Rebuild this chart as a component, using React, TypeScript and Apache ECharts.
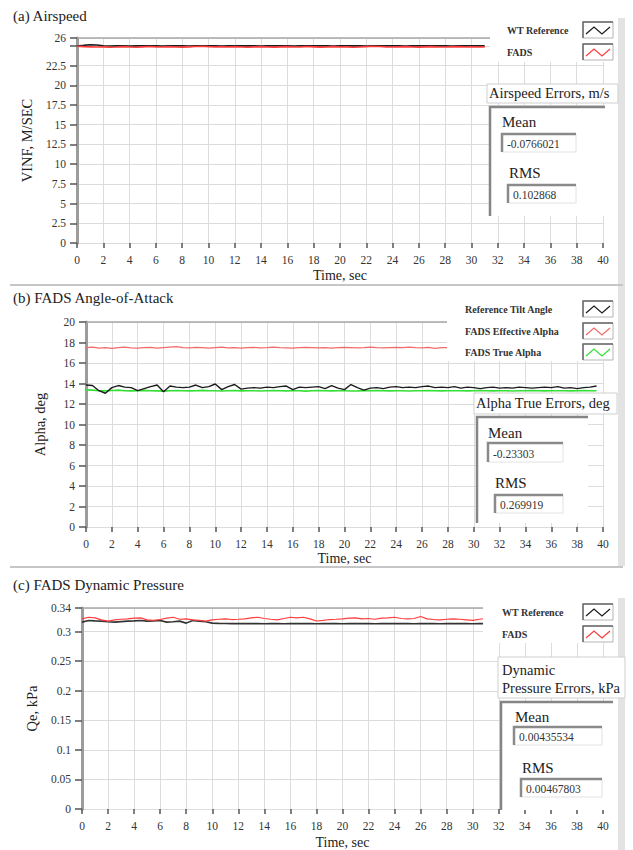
import React, { useEffect, useRef } from "react";
import * as echarts from "echarts";

const SERIF = '"Liberation Serif", "Times New Roman", Times, serif';

// ---------- shared time axis ----------
const timeName = "Time, sec";
const timeMin = 0;
const timeMax = 40;
const timeInterval = 2;

// ---------- (a) Airspeed ----------
const airspeedTitle = "(a) Airspeed";
const airspeedYName = "VINF, M/SEC";
const airspeedYMax = 26;
const airspeedYInterval = 2.5;
const airspeedStep = 0.5;
const airspeedWT = [
  24.98, 25.06, 25.15, 25.12, 25.02, 24.99, 25.0, 25.01, 24.99, 25.0,
  25.0, 25.02, 25.0, 24.98, 25.0, 25.01, 25.0, 24.98, 25.0, 25.02,
  25.0, 25.0, 24.98, 25.0, 25.01, 25.0, 25.02, 25.0, 24.98, 25.0,
  25.0, 25.01, 25.0, 24.98, 25.0, 25.0, 25.02, 25.0, 25.01, 24.98,
  25.0, 25.0, 25.01, 25.0, 24.98, 25.0, 25.02, 25.0, 25.0, 25.01,
  24.98, 25.0, 25.0, 25.01, 25.02, 25.0, 25.0, 24.98, 25.0, 25.01,
  25.0, 25.0, 25.0,
];
const airspeedFADS = [
  24.95, 24.9, 24.88, 24.85, 24.88, 24.82, 24.85, 24.9, 24.85, 24.82,
  24.88, 24.92, 24.88, 24.85, 24.9, 24.86, 24.84, 24.88, 24.92, 24.95,
  24.9, 24.86, 24.88, 24.85, 24.9, 24.86, 24.82, 24.88, 24.9, 24.86,
  24.84, 24.88, 24.9, 24.85, 24.88, 24.92, 24.88, 24.84, 24.86, 24.9,
  24.85, 24.88, 24.82, 24.86, 24.9, 24.95, 24.92, 24.88, 24.85, 24.88,
  24.9, 24.86, 24.84, 24.88, 24.9, 24.86, 24.85, 24.88, 24.9, 24.86,
  24.88, 24.85, 24.88,
];
const airspeedLegend = ["WT Reference", "FADS"];
const airspeedErrTitle = ["Airspeed Errors, m/s"];
const airspeedMean = "-0.0766021";
const airspeedRMS = "0.102868";

// ---------- (b) Angle of attack ----------
const alphaTitle = "(b) FADS Angle-of-Attack";
const alphaYName = "Alpha, deg";
const alphaYMax = 20;
const alphaYInterval = 2;
const alphaStep = 0.5;
const alphaReference = [
  13.85, 13.8, 13.3, 13.05, 13.6, 13.8, 13.65, 13.6, 13.3, 13.5,
  13.7, 13.85, 13.2, 13.75, 13.65, 13.6, 13.65, 13.85, 13.6, 13.7,
  13.95, 13.4, 13.7, 13.9, 13.45, 13.55, 13.6, 13.55, 13.65, 13.6,
  13.7, 13.75, 13.4, 13.65, 13.6, 13.65, 13.7, 13.5, 13.8, 13.55,
  13.4, 13.9, 13.6, 13.35, 13.55, 13.6, 13.5, 13.65, 13.7, 13.6,
  13.65, 13.6, 13.7, 13.75, 13.6, 13.65, 13.6, 13.7, 13.55, 13.65,
  13.6, 13.5, 13.6, 13.65, 13.55, 13.6, 13.55, 13.65, 13.6, 13.55,
  13.6, 13.65, 13.6, 13.7, 13.55, 13.6, 13.5, 13.6, 13.65, 13.75,
];
const alphaEffective = [
  17.5, 17.55, 17.45, 17.5, 17.42, 17.5, 17.55, 17.48, 17.45, 17.5,
  17.52, 17.45, 17.5, 17.55, 17.6, 17.5, 17.48, 17.52, 17.5, 17.45,
  17.5, 17.55, 17.48, 17.5, 17.45, 17.5, 17.52, 17.48, 17.5, 17.55,
  17.5, 17.48, 17.45, 17.5, 17.52, 17.5, 17.48, 17.5, 17.45, 17.5,
  17.52, 17.5, 17.48, 17.5, 17.55, 17.5, 17.48, 17.5, 17.52, 17.5,
  17.55, 17.5, 17.48, 17.52, 17.42, 17.5, 17.5,
];
const alphaTrue = [
  13.38, 13.35, 13.3, 13.28, 13.32, 13.35, 13.3, 13.28, 13.3, 13.33,
  13.3, 13.28, 13.26, 13.3, 13.32, 13.3, 13.28, 13.3, 13.33, 13.3,
  13.3, 13.27, 13.3, 13.32, 13.28, 13.3, 13.3, 13.27, 13.3, 13.32,
  13.3, 13.28, 13.3, 13.3, 13.26, 13.3, 13.32, 13.3, 13.28, 13.3,
  13.3, 13.27, 13.28, 13.3, 13.3, 13.32, 13.3, 13.28, 13.3, 13.3,
  13.27, 13.3, 13.3, 13.32, 13.3, 13.28, 13.3, 13.3, 13.3, 13.28,
  13.3, 13.32, 13.3, 13.28, 13.3, 13.3, 13.27, 13.3, 13.3, 13.32,
  13.3, 13.28, 13.3, 13.3, 13.3, 13.28, 13.3, 13.32, 13.3, 13.3,
];
const alphaLegend = ["Reference Tilt Angle", "FADS Effective Alpha", "FADS True Alpha"];
const alphaErrTitle = ["Alpha True Errors, deg"];
const alphaMean = "-0.23303";
const alphaRMS = "0.269919";

// ---------- (c) Dynamic pressure ----------
const qTitle = "(c) FADS Dynamic Pressure";
const qYName = "Qe, kPa";
const qYMax = 0.34;
const qYInterval = 0.05;
const qStep = 0.5;
const qWT = [
  0.3161, 0.3189, 0.3183, 0.3178, 0.3167, 0.3161, 0.317, 0.3178, 0.3183, 0.3189,
  0.3178, 0.3183, 0.3189, 0.3161, 0.3167, 0.3178, 0.3144, 0.3189, 0.3178, 0.3167,
  0.3144, 0.314, 0.3138, 0.3136, 0.3135, 0.3135, 0.3136, 0.3135, 0.3134, 0.3135,
  0.3135, 0.3134, 0.3135, 0.3135, 0.3136, 0.3135, 0.3134, 0.3135, 0.3135, 0.3135,
  0.3134, 0.3135, 0.3136, 0.3135, 0.3135, 0.3134, 0.3135, 0.3135, 0.3135, 0.3136,
  0.3135, 0.3134, 0.3135, 0.3135, 0.3135, 0.3134, 0.3135, 0.3136, 0.3135, 0.3135,
  0.3134, 0.3135, 0.3135,
];
const qFADS = [
  0.3217, 0.3244, 0.3233, 0.32, 0.3178, 0.32, 0.321, 0.3217, 0.323, 0.3233,
  0.32, 0.319, 0.3205, 0.323, 0.3244, 0.321, 0.3217, 0.32, 0.319, 0.3178,
  0.32, 0.321, 0.3217, 0.3205, 0.321, 0.3217, 0.3233, 0.3244, 0.3222, 0.321,
  0.32, 0.3222, 0.3244, 0.3233, 0.3244, 0.3217, 0.318, 0.319, 0.3205, 0.321,
  0.3217, 0.323, 0.3233, 0.3217, 0.3222, 0.321, 0.323, 0.3233, 0.3244, 0.3222,
  0.3217, 0.3222, 0.3256, 0.3217, 0.3205, 0.32, 0.321, 0.3217, 0.321, 0.32,
  0.319, 0.321, 0.3222,
];
const qLegend = ["WT Reference", "FADS"];
const qErrTitle = ["Dynamic", "Pressure Errors, kPa"];
const qMean = "0.00435534";
const qRMS = "0.00467803";

// ---------- colours ----------
const BLACK = "#1c1c1c";
const RED = "#ff3c3c";
const PINK = "#f36a6a";
const GREEN = "#35e035";

const pairs = (step: number, vals: number[]) => vals.map((v, i) => [i * step, v]);

// ---------- overlay (LabVIEW front-panel) layout ----------
type Layout = {
  title: string;
  titleY: number;
  topLine: { x1: number; x2: number; y: number };
  legend: { x: number; y: number; w: number; h: number; textX: number; rows: number[]; names: string[]; colors: string[] };
  err: { x: number; y: number; w: number; h: number; textX: number; textY: number[]; lines: string[] };
  cluster: {
    x: number; y: number; x2: number; y2: number;
    meanX: number; meanY: number; meanField: number[]; meanText: string;
    rmsX: number; rmsY: number; rmsField: number[]; rmsText: string;
  };
};

const layouts: Layout[] = [
  {
    title: airspeedTitle, titleY: 16,
    topLine: { x1: 78, x2: 490, y: 38 },
    legend: { x: 490, y: 18, w: 128, h: 44, textX: 507, rows: [30, 52], names: airspeedLegend, colors: [BLACK, RED] },
    err: { x: 487, y: 84, w: 131, h: 19, textX: 489, textY: [93], lines: airspeedErrTitle },
    cluster: {
      x: 490, y: 107, x2: 605, y2: 216,
      meanX: 502, meanY: 122, meanField: [502, 134, 576, 152], meanText: airspeedMean,
      rmsX: 509, rmsY: 173, rmsField: [508, 185, 576, 203], rmsText: airspeedRMS,
    },
  },
  {
    title: alphaTitle, titleY: 298,
    topLine: { x1: 87, x2: 447, y: 322 },
    legend: { x: 447, y: 294, w: 171, h: 67, textX: 465, rows: [309, 331, 352], names: alphaLegend, colors: [BLACK, PINK, GREEN] },
    err: { x: 474, y: 393, w: 143, h: 21, textX: 476, textY: [403], lines: alphaErrTitle },
    cluster: {
      x: 477, y: 417, x2: 588, y2: 523,
      meanX: 488, meanY: 433, meanField: [488, 443, 563, 462], meanText: alphaMean,
      rmsX: 495, rmsY: 483, rmsField: [495, 495, 563, 513], rmsText: alphaRMS,
    },
  },
  {
    title: qTitle, titleY: 585,
    topLine: { x1: 83, x2: 483, y: 608 },
    legend: { x: 483, y: 598, w: 135, h: 45, textX: 502, rows: [612, 634], names: qLegend, colors: [BLACK, RED] },
    err: { x: 498, y: 657, w: 127, h: 41, textX: 502, textY: [670, 688], lines: qErrTitle },
    cluster: {
      x: 501, y: 702, x2: 613, y2: 810,
      meanX: 515, meanY: 717, meanField: [514, 727, 602, 745], meanText: qMean,
      rmsX: 522, rmsY: 768, rmsField: [521, 779, 602, 797], rmsText: qRMS,
    },
  },
];

function txt(x: number, y: number, text: string, size: number, color = "#222", weight = "normal") {
  return {
    type: "text", z: 120, x, y, silent: true,
    style: { text, fill: color, fontSize: size, fontFamily: SERIF, fontWeight: weight, align: "left", verticalAlign: "middle" },
  };
}
function rect(x: number, y: number, w: number, h: number, fill: string, stroke?: string, lw = 1, z = 100) {
  return {
    type: "rect", z, silent: true,
    shape: { x, y, width: w, height: h },
    style: { fill, stroke: stroke || null, lineWidth: lw },
  };
}
function pl(points: number[][], stroke: string, lw: number, z = 110) {
  return { type: "polyline", z, silent: true, shape: { points }, style: { stroke, lineWidth: lw, fill: null } };
}

function buildGraphic() {
  const els: any[] = [];
  // right-hand gray strips
  els.push(rect(618, 18, 7, 548, "#e3e3e3", undefined, 0, 95));
  els.push(rect(618, 598, 7, 252, "#e3e3e3", undefined, 0, 95));
  // separators
  els.push(pl([[10, 285], [623, 285]], "#c6c6c6", 2, 96));
  els.push(pl([[10, 567], [623, 567]], "#c6c6c6", 2, 96));

  for (const L of layouts) {
    els.push(txt(13, L.titleY, L.title, 15, "#222"));
    els.push(pl([[L.topLine.x1, L.topLine.y], [L.topLine.x2, L.topLine.y]], "#a8a8a8", 1.5, 90));
    // legend
    const lg = L.legend;
    els.push(rect(lg.x, lg.y, lg.w, lg.h, "#ffffff"));
    lg.rows.forEach((ry, i) => {
      els.push(txt(lg.textX, ry, lg.names[i], 10, "#333", "bold"));
      const sx = 583, sy = ry - 8;
      els.push(rect(sx, sy, 30, 16, "#ffffff", "#b5b5b5", 1, 105));
      els.push(pl([[sx, sy + 16], [sx, sy], [sx + 30, sy]], "#6a6a6a", 1.5));
      els.push(pl([[sx + 3, sy + 12], [sx + 11, sy + 5], [sx + 19, sy + 12], [sx + 27, sy + 5]], lg.colors[i], 1.2, 115));
    });
    // error title
    const e = L.err;
    els.push(rect(e.x, e.y, e.w, e.h, "#ffffff", "#cfcfcf", 1, 101));
    e.lines.forEach((line, i) => els.push(txt(e.textX, e.textY[i], line, 14.5, "#222")));
    // cluster
    const c = L.cluster;
    els.push(rect(c.x, c.y, c.x2 - c.x, c.y2 - c.y, "#ffffff"));
    els.push(pl([[c.x, c.y2], [c.x, c.y], [c.x2, c.y]], "#858585", 2.5));
    els.push(txt(c.meanX, c.meanY, "Mean", 15, "#222"));
    els.push(txt(c.rmsX, c.rmsY, "RMS", 15, "#222"));
    for (const [f, t] of [[c.meanField, c.meanText], [c.rmsField, c.rmsText]] as [number[], string][]) {
      els.push(rect(f[0], f[1], f[2] - f[0], f[3] - f[1], "#ffffff", "#e2e2e2", 1, 102));
      els.push(pl([[f[0], f[3]], [f[0], f[1]], [f[2], f[1]]], "#8a8a8a", 2.5));
      els.push(txt(f[0] + 5, (f[1] + f[3]) / 2 + 1, t, 11.5, "#333"));
    }
  }
  return els;
}

const grids = [
  { left: 77, top: 38, width: 526, height: 205 },
  { left: 86, top: 322, width: 517, height: 205 },
  { left: 82, top: 608, width: 521, height: 204 },
];
const xNameGaps = [21, 20, 22];
const yNameGaps = [32, 39, 38];

export default function App() {
  const ref = useRef<HTMLDivElement>(null);
  useEffect(() => {
    if (!ref.current) return;
    const chart = echarts.init(ref.current, undefined, { renderer: "svg" });
    const labelStyle = { color: "#333", fontSize: 11.5, fontFamily: SERIF };
    const splitLine = { show: true, lineStyle: { color: "#dcdcdc", width: 1 } };

    const xAxis = grids.map((_, i) => ({
      gridIndex: i, type: "value", min: timeMin, max: timeMax, interval: timeInterval,
      offset: 4,
      axisLine: { show: false },
      axisTick: { show: true, length: 5, lineStyle: { color: "#555", width: 1.5 } },
      axisLabel: { ...labelStyle, margin: 7 },
      splitLine,
      name: timeName, nameLocation: "middle", nameGap: xNameGaps[i],
      nameTextStyle: { color: "#222", fontSize: 14, fontFamily: SERIF },
    }));

    const yCfg = [
      { max: airspeedYMax, interval: airspeedYInterval, name: airspeedYName, fmt: (v: number) => (v === 25 ? "" : String(v)) },
      { max: alphaYMax, interval: alphaYInterval, name: alphaYName, fmt: (v: number) => String(v) },
      { max: qYMax, interval: qYInterval, name: qYName, fmt: (v: number) => String(Math.round(v * 100) / 100) },
    ];
    const yAxis = yCfg.map((c, i) => ({
      gridIndex: i, type: "value", min: 0, max: c.max, interval: c.interval,
      axisLine: { show: true, onZero: false, lineStyle: { color: "#9c9c9c", width: 3 } },
      axisTick: { show: true, length: 7, lineStyle: { color: "#555", width: 1.5 } },
      axisLabel: { ...labelStyle, margin: 11, formatter: c.fmt },
      splitLine,
      name: c.name, nameLocation: "middle", nameGap: yNameGaps[i],
      nameTextStyle: { color: "#222", fontSize: 14.5, fontFamily: SERIF },
    }));

    const line = (name: string, idx: number, data: number[][], color: string, width: number) => ({
      type: "line", name, xAxisIndex: idx, yAxisIndex: idx, data, showSymbol: false, symbol: "none",
      silent: true, lineStyle: { color, width }, itemStyle: { color },
    });

    chart.setOption({
      animation: false,
      backgroundColor: "#ffffff",
      grid: grids.map((g) => ({ ...g, containLabel: false })),
      xAxis,
      yAxis,
      series: [
        line(airspeedLegend[0], 0, pairs(airspeedStep, airspeedWT), BLACK, 1.6),
        line(airspeedLegend[1], 0, pairs(airspeedStep, airspeedFADS), RED, 1.6),
        line(alphaLegend[1], 1, pairs(alphaStep, alphaEffective), PINK, 1.2),
        line(alphaLegend[2], 1, pairs(alphaStep, alphaTrue), GREEN, 1.6),
        line(alphaLegend[0], 1, pairs(alphaStep, alphaReference), BLACK, 1.4),
        line(qLegend[0], 2, pairs(qStep, qWT), "#333333", 1.6),
        line(qLegend[1], 2, pairs(qStep, qFADS), RED, 1.2),
      ],
      graphic: { elements: buildGraphic() },
    });
    return () => chart.dispose();
  }, []);
  return <div ref={ref} style={{ position: "absolute", left: 0, top: 0, width: 633, height: 850 }} />;
}
